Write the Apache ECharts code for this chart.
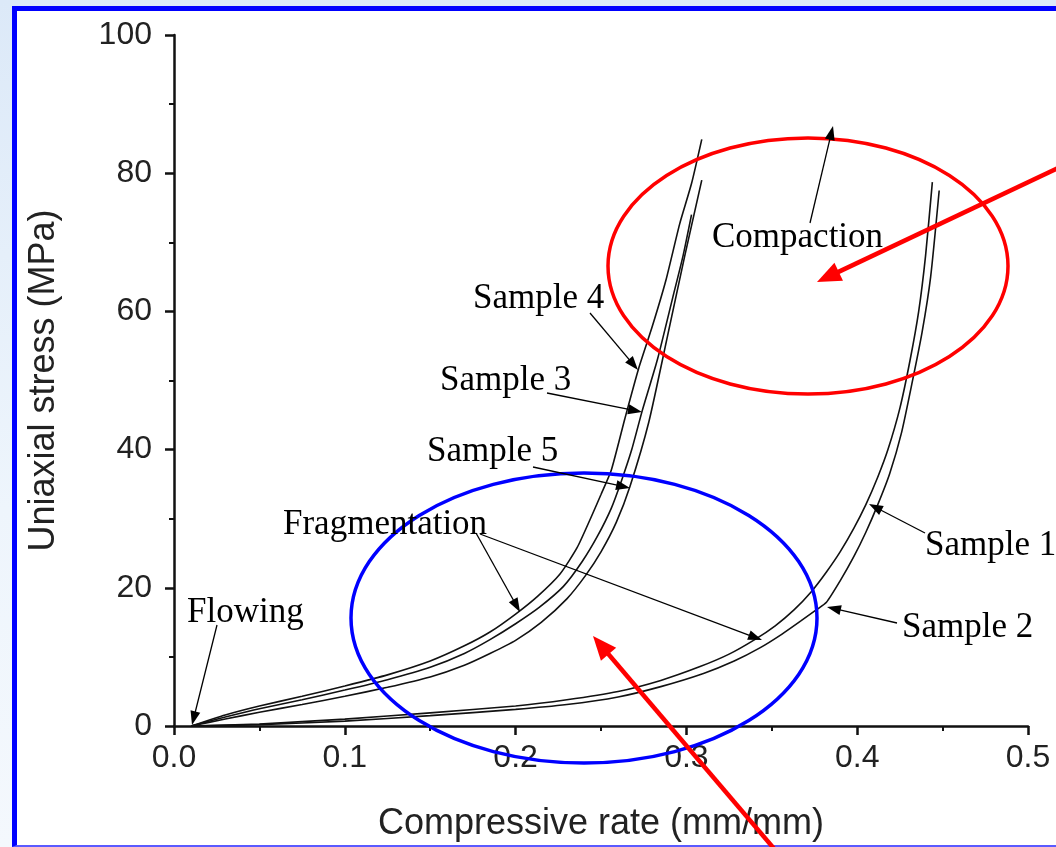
<!DOCTYPE html>
<html>
<head>
<meta charset="utf-8">
<script src="https://cdn.jsdelivr.net/npm/echarts@6/dist/echarts.min.js"></script>
<style>
  html, body { margin: 0; padding: 0; }
  body { width: 1056px; height: 847px; overflow: hidden; position: relative;
         background: linear-gradient(180deg, #dce9f8 0%, #eef5fc 60%, #f4f8fd 100%); }
  #frame { position: absolute; left: 12px; top: 6px; width: 1100px; height: 834px;
           background: #fff; border-left: 5px solid #0000ff; border-top: 5px solid #0000ff;
           border-bottom: 2px solid #5a5aff; }
  #chart { position: absolute; left: 0; top: 0; width: 1056px; height: 847px; }
</style>
</head>
<body>
<div id="frame"></div>
<div id="chart"></div>
<script>
// strain (mm/mm) and stress (MPa)
let sample4X = [0.010, 0.030, 0.050, 0.075, 0.100, 0.125, 0.150, 0.170, 0.185, 0.200, 0.213, 0.226, 0.236, 0.244, 0.250, 0.256, 0.264, 0.272, 0.280, 0.288, 0.296, 0.303, 0.309]
let sample4Y = [0, 1.6, 2.9, 4.3, 5.8, 7.4, 9.4, 11.6, 13.6, 16.2, 18.8, 22.0, 25.8, 30.1, 33.5, 37.0, 44.5, 51.7, 57.8, 64.5, 72.6, 78.5, 84.9]
let sample3X = [0.010, 0.030, 0.050, 0.075, 0.100, 0.125, 0.150, 0.170, 0.185, 0.200, 0.214, 0.228, 0.239, 0.248, 0.256, 0.262, 0.268, 0.274, 0.283, 0.292, 0.298, 0.303]
let sample3Y = [0, 1.3, 2.5, 3.8, 5.2, 6.7, 8.5, 10.5, 12.5, 14.8, 17.2, 20.2, 23.8, 27.5, 31.5, 35.5, 40.0, 45.5, 53.0, 62.0, 68.0, 74.0]
let sample5X = [0.010, 0.030, 0.050, 0.075, 0.100, 0.125, 0.150, 0.170, 0.185, 0.200, 0.215, 0.230, 0.241, 0.250, 0.259, 0.267, 0.278, 0.289, 0.299, 0.309]
let sample5Y = [0, 1.0, 2.0, 3.1, 4.3, 5.6, 7.1, 8.8, 10.5, 12.4, 15.0, 18.4, 21.8, 25.2, 29.5, 34.7, 44.0, 56.5, 68.0, 79.0]
let sample1X = [0.010, 0.050, 0.100, 0.150, 0.200, 0.230, 0.260, 0.285, 0.308, 0.325, 0.340, 0.352, 0.363, 0.373, 0.382, 0.390, 0.398, 0.405, 0.412, 0.418, 0.425, 0.431, 0.436, 0.440, 0.444]
let sample1Y = [0, 0.3, 1.0, 1.9, 2.9, 3.8, 5.0, 6.6, 8.6, 10.4, 12.5, 14.5, 16.8, 19.4, 22.3, 25.2, 28.6, 32.0, 36.0, 40.0, 46.0, 53.0, 60.0, 68.0, 78.7]
let sample2X = [0.010, 0.050, 0.100, 0.150, 0.200, 0.230, 0.260, 0.285, 0.310, 0.328, 0.343, 0.356, 0.367, 0.376, 0.382, 0.390, 0.398, 0.405, 0.412, 0.419, 0.426, 0.432, 0.438, 0.443, 0.448]
let sample2Y = [0, 0.2, 0.7, 1.5, 2.4, 3.1, 4.2, 5.7, 7.6, 9.4, 11.3, 13.3, 15.2, 16.8, 17.9, 21.0, 24.5, 28.0, 32.0, 36.5, 42.5, 49.5, 57.0, 65.0, 77.5]
let seriesNames = ['Sample 1', 'Sample 2', 'Sample 3', 'Sample 4', 'Sample 5']

function zip(xs, ys) {
  return xs.map(function (x, i) { return [x, ys[i]] })
}

let chart = echarts.init(document.getElementById('chart'), null, { renderer: 'canvas' })

// arrow = line + triangle head
function arrow(x1, y1, x2, y2, color, width, headLen, headHalf) {
  let dx = x2 - x1, dy = y2 - y1
  let len = Math.sqrt(dx * dx + dy * dy)
  let ux = dx / len, uy = dy / len
  let bx = x2 - ux * headLen, by = y2 - uy * headLen
  return [
    { type: 'line', z: 50, shape: { x1: x1, y1: y1, x2: bx + ux * 2, y2: by + uy * 2 },
      style: { stroke: color, lineWidth: width } },
    { type: 'polygon', z: 50,
      shape: { points: [[x2, y2], [bx - uy * headHalf, by + ux * headHalf], [bx + uy * headHalf, by - ux * headHalf]] },
      style: { fill: color } }
  ]
}

function label(text, x, y) {
  return { type: 'text', z: 50, x: x, y: y,
    style: { text: text, font: '35px "Liberation Serif"', fill: '#000', verticalAlign: 'middle' } }
}

let graphics = []
  .concat([
    { type: 'ellipse', z: 40, shape: { cx: 808, cy: 266, rx: 200, ry: 128 },
      style: { fill: 'none', stroke: '#ff0000', lineWidth: 3.5 } },
    { type: 'ellipse', z: 40, shape: { cx: 584, cy: 618, rx: 233, ry: 145 },
      style: { fill: 'none', stroke: '#0000ff', lineWidth: 3.5 } }
  ])
  .concat(arrow(1075, 160, 817, 282, '#ff0000', 4.5, 24, 10))
  .concat(arrow(782, 858, 593, 636, '#ff0000', 4.5, 24, 10))
  .concat(arrow(810, 223, 833, 126, '#000', 1.3, 14, 5))
  .concat(arrow(590, 313, 638, 370, '#000', 1.3, 14, 5))
  .concat(arrow(547, 393, 642, 412, '#000', 1.3, 14, 5))
  .concat(arrow(533, 467, 630, 488, '#000', 1.3, 14, 5))
  .concat(arrow(476, 533, 520, 612, '#000', 1.3, 14, 5))
  .concat(arrow(480, 534, 762, 640, '#000', 1.3, 14, 5))
  .concat(arrow(217, 625, 192, 725, '#000', 1.3, 14, 5))
  .concat(arrow(925, 533, 869, 504, '#000', 1.3, 14, 5))
  .concat(arrow(897, 623, 827, 607, '#000', 1.3, 14, 5))
  .concat([
    label('Compaction', 712, 238),
    label('Sample 4', 473, 299),
    label('Sample 3', 440, 381),
    label('Sample 5', 427, 452),
    label('Fragmentation', 283, 525),
    label('Flowing', 187, 613),
    label('Sample 1', 925, 546),
    label('Sample 2', 902, 628)
  ])

let axisCommon = {
  type: 'value',
  nameLocation: 'middle',
  nameTextStyle: { fontFamily: 'Liberation Sans', fontSize: 36, color: '#222' },
  axisLine: { show: true, lineStyle: { color: '#111', width: 2.5 } },
  axisTick: { show: true, inside: false, length: 9, lineStyle: { color: '#111', width: 2.5 } },
  minorTick: { show: true, splitNumber: 2, length: 5, lineStyle: { color: '#111', width: 2 } },
  splitLine: { show: false },
  axisLabel: { fontFamily: 'Liberation Sans', fontSize: 32, color: '#222' }
}

let option = {
  animation: false,
  backgroundColor: 'transparent',
  grid: { left: 174, right: 28, top: 35, bottom: 118, containLabel: false },
  xAxis: Object.assign({}, axisCommon, {
    name: 'Compressive rate (mm/mm)', nameGap: 80, min: 0, max: 0.5, interval: 0.1,
    axisLabel: Object.assign({}, axisCommon.axisLabel, { margin: 16, formatter: function (v) { return v.toFixed(1) } })
  }),
  yAxis: Object.assign({}, axisCommon, {
    name: 'Uniaxial stress (MPa)', nameGap: 112, min: 0, max: 100, interval: 20,
    axisLabel: Object.assign({}, axisCommon.axisLabel, { margin: 22 })
  }),
  series: [
    [sample1X, sample1Y], [sample2X, sample2Y], [sample3X, sample3Y], [sample4X, sample4Y], [sample5X, sample5Y]
  ].map(function (s, i) {
    return {
      name: seriesNames[i], type: 'line', showSymbol: false, smooth: 0.2, clip: false,
      lineStyle: { color: '#111', width: 1.6 }, data: zip(s[0], s[1])
    }
  }),
  graphic: graphics
}

chart.setOption(option)
</script>
</body>
</html>
